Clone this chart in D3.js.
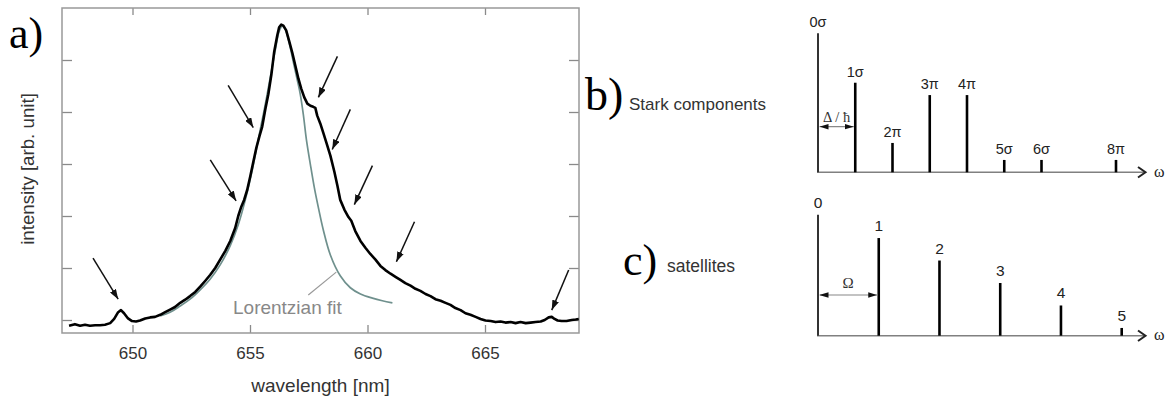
<!DOCTYPE html>
<html><head><meta charset="utf-8">
<script src="https://cdn.jsdelivr.net/npm/d3@7"></script>
<style>body{margin:0;background:#fff}</style>
</head><body>
<svg id="c" width="1167" height="401"></svg>
<script>
// ---- panel a: measured spectrum ----
const wavelength = [647.30,647.55,647.77,647.98,648.19,648.41,648.62,648.83,649.05,649.22,649.39,649.51,649.64,649.81,649.98,650.15,650.32,650.54,650.75,650.96,651.18,651.39,651.60,651.81,652.03,652.24,652.45,652.67,652.88,653.09,653.31,653.52,653.73,653.95,654.16,654.37,654.50,654.63,654.75,654.88,655.01,655.14,655.27,655.40,655.52,655.65,655.78,655.91,656.03,656.16,656.24,656.33,656.42,656.54,656.67,656.80,656.93,657.06,657.18,657.31,657.44,657.57,657.69,657.78,657.86,657.99,658.12,658.25,658.42,658.59,658.72,658.84,659.02,659.19,659.31,659.48,659.70,659.91,660.12,660.34,660.55,660.76,660.98,661.19,661.40,661.61,661.83,662.04,662.25,662.47,662.68,662.89,663.11,663.32,663.53,663.74,663.96,664.17,664.38,664.60,664.81,665.02,665.24,665.45,665.66,665.87,666.09,666.30,666.51,666.73,666.94,667.15,667.37,667.54,667.71,667.84,667.96,668.09,668.26,668.47,668.69,668.86,668.99];
const intensity = [-0.11,-0.08,-0.11,-0.09,-0.11,-0.10,-0.10,-0.09,-0.06,0.02,0.15,0.19,0.13,0.03,-0.02,-0.03,-0.01,0.03,0.05,0.06,0.10,0.15,0.20,0.25,0.33,0.39,0.46,0.54,0.64,0.75,0.87,1.00,1.16,1.33,1.52,1.77,2.00,2.18,2.31,2.50,2.76,3.04,3.31,3.53,3.72,4.05,4.34,4.72,5.16,5.47,5.63,5.68,5.66,5.57,5.36,5.14,4.89,4.64,4.45,4.28,4.16,4.12,4.10,4.08,3.93,3.78,3.60,3.41,3.16,2.85,2.58,2.31,2.12,1.98,1.91,1.71,1.52,1.39,1.27,1.16,1.04,0.96,0.89,0.83,0.77,0.71,0.66,0.60,0.56,0.50,0.46,0.40,0.37,0.33,0.29,0.23,0.19,0.13,0.10,0.06,0.02,-0.01,-0.02,-0.04,-0.03,-0.05,-0.04,-0.06,-0.04,-0.06,-0.05,-0.04,-0.03,0.00,0.05,0.06,0.02,-0.01,-0.02,-0.02,0.00,0.01,0.02];
// Lorentzian fit
const fitWavelength = [651.18,651.60,652.03,652.45,652.88,653.31,653.73,654.16,654.50,654.80,655.10,655.35,655.61,655.86,656.08,656.24,656.37,656.50,656.67,656.84,657.01,657.14,657.27,657.40,657.57,657.74,657.91,658.12,658.42,658.84,659.27,659.70,660.21,660.63,661.06];
const fitIntensity = [0.08,0.15,0.27,0.40,0.58,0.79,1.06,1.43,1.83,2.31,2.89,3.47,4.05,4.66,5.20,5.55,5.65,5.59,5.32,4.97,4.62,4.34,3.95,3.47,2.99,2.54,2.16,1.73,1.25,0.85,0.62,0.50,0.42,0.37,0.33];
const xTicks = [650,655,660,665];
const yTicks = [0,1,2,3,4,5];
// annotation arrows (data units)
const arrowTailL = [648.32,653.31,654.07,658.72,659.27,660.21,662.00,668.56];
const arrowTailI = [1.19,3.08,4.51,5.07,4.05,2.97,1.89,0.96];
const arrowHeadL = [649.39,654.41,655.14,657.91,658.50,659.44,661.23,667.84];
const arrowHeadI = [0.40,2.29,3.70,4.28,3.28,2.22,1.12,0.19];

// ---- panel b: Stark components ----
const starkLabels = ["0σ","1σ","2π","3π","4π","5σ","6σ","8π"];
const starkPos = [0,1,2,3,4,5,6,8];
const starkHeight = [9,5.8,1.9,5,5,0.8,0.8,0.8];
// ---- panel c: satellites ----
const satLabels = ["0","1","2","3","4","5"];
const satPos = [0,1,2,3,4,5];
const satHeight = [7.8,6.3,4.85,3.4,1.95,0.5];

const svg = d3.select("#c");
const sans = "'Liberation Sans', Arial, sans-serif";
const serif = "'Liberation Serif', 'Times New Roman', serif";

const defs = svg.append("defs");
defs.append("marker").attr("id","ah").attr("markerUnits","userSpaceOnUse")
  .attr("viewBox","0 0 10 7").attr("refX",10).attr("refY",3.5)
  .attr("markerWidth",10).attr("markerHeight",7).attr("orient","auto")
  .append("path").attr("d","M0,0L10,3.5L0,7z").attr("fill","#111");
defs.append("marker").attr("id","ah2").attr("markerUnits","userSpaceOnUse")
  .attr("viewBox","0 0 10 6").attr("refX",10).attr("refY",3)
  .attr("markerWidth",9).attr("markerHeight",6).attr("orient","auto-start-reverse")
  .append("path").attr("d","M0,0L10,3L0,6z").attr("fill","#111");

// ===== panel a =====
const L = 62, R = 579, T = 8, B = 333;
const x = d3.scaleLinear().domain([647,669]).range([L,R]);
const y = d3.scaleLinear().domain([-0.25,6]).range([B,T]);

const gx = svg.append("g").attr("transform",`translate(0,${B})`)
  .call(d3.axisBottom(x).tickValues(xTicks).tickFormat(d3.format("d")).tickSizeInner(-8).tickSizeOuter(0).tickPadding(14));
const gxt = svg.append("g").attr("transform",`translate(0,${T})`)
  .call(d3.axisTop(x).tickValues(xTicks).tickFormat("").tickSizeInner(-7).tickSizeOuter(0));
const gy = svg.append("g").attr("transform",`translate(${L},0)`)
  .call(d3.axisLeft(y).tickValues(yTicks).tickFormat("").tickSizeInner(-10).tickSizeOuter(0));
const gyr = svg.append("g").attr("transform",`translate(${R},0)`)
  .call(d3.axisRight(y).tickValues(yTicks).tickFormat("").tickSizeInner(-10).tickSizeOuter(0));
[gx,gxt,gy,gyr].forEach(g=>{
  g.select(".domain").remove();
  g.selectAll(".tick line").attr("stroke","#8a8a8a").attr("stroke-width",1.3);
});
gx.selectAll(".tick text").attr("font-family",sans).attr("font-size",17).attr("fill","#333");
svg.append("rect").attr("x",L).attr("y",T).attr("width",R-L).attr("height",B-T)
  .attr("fill","none").attr("stroke","#999").attr("stroke-width",1.5);

const fitData = fitWavelength.map((d,i)=>[d,fitIntensity[i]]);
const specData = wavelength.map((d,i)=>[d,intensity[i]]);
const line = d3.line().x(d=>x(d[0])).y(d=>y(d[1])).curve(d3.curveCatmullRom);
svg.append("path").datum(fitData).attr("d",line).attr("fill","none")
  .attr("stroke","#6f908d").attr("stroke-width",1.7);
svg.append("path").datum(specData).attr("d",d3.line().x(d=>x(d[0])).y(d=>y(d[1])))
  .attr("fill","none").attr("stroke","#000").attr("stroke-width",2.6).attr("stroke-linejoin","round");

svg.append("g").selectAll("line").data(arrowTailL).join("line")
  .attr("x1",(d)=>x(d)).attr("y1",(d,i)=>y(arrowTailI[i]))
  .attr("x2",(d,i)=>x(arrowHeadL[i])).attr("y2",(d,i)=>y(arrowHeadI[i]))
  .attr("stroke","#111").attr("stroke-width",1.5).attr("marker-end","url(#ah)");

// Lorentzian label + leader
svg.append("line").attr("x1",x(657.48)).attr("y1",y(0.48)).attr("x2",x(658.67)).attr("y2",y(0.92))
  .attr("stroke","#999").attr("stroke-width",1.2);
svg.append("text").attr("x",233).attr("y",314).attr("font-family",sans).attr("font-size",19)
  .attr("fill","#888").text("Lorentzian fit");

svg.append("text").attr("x",(L+R)/2).attr("y",392).attr("text-anchor","middle")
  .attr("font-family",sans).attr("font-size",19).attr("fill","#333").text("wavelength [nm]");
svg.append("text").attr("transform","translate(34,169) rotate(-90)").attr("text-anchor","middle")
  .attr("font-family",sans).attr("font-size",18.7).attr("fill","#333").text("intensity [arb. unit]");
svg.append("text").attr("x",9).attr("y",48).attr("font-family",serif).attr("font-size",44)
  .attr("fill","#000").text("a)");

// ===== panel b =====
const bx = d3.scaleLinear().domain([0,8]).range([818,1116]);
const bBase = 172.3;
const bh = d3.scaleLinear().domain([0,9]).range([bBase,33.3]);
svg.append("line").attr("x1",817).attr("x2",1145).attr("y1",bBase).attr("y2",bBase)
  .attr("stroke","#808080").attr("stroke-width",1.6);
svg.append("path").attr("d",`M1138,167L1145.5,${bBase}L1138,177.5`).attr("fill","none")
  .attr("stroke","#222").attr("stroke-width",2);
svg.append("g").selectAll("line").data(starkPos).join("line")
  .attr("x1",d=>bx(d)).attr("x2",d=>bx(d)).attr("y1",bBase).attr("y2",(d,i)=>bh(starkHeight[i]))
  .attr("stroke",(d,i)=>i===0?"#333":"#000").attr("stroke-width",(d,i)=>i===0?2:2.6);
svg.append("g").selectAll("text").data(starkPos).join("text")
  .attr("x",d=>bx(d)).attr("y",(d,i)=>bh(starkHeight[i])-6).attr("text-anchor","middle")
  .attr("font-family",sans).attr("font-size",14.5).attr("fill","#222").text((d,i)=>starkLabels[i]);
svg.append("line").attr("x1",bx(0)+1.5).attr("x2",bx(1)-1.5).attr("y1",126.7).attr("y2",126.7)
  .attr("stroke","#888").attr("stroke-width",1.2)
  .attr("marker-start","url(#ah2)").attr("marker-end","url(#ah2)");
svg.append("text").attr("x",(bx(0)+bx(1))/2).attr("y",122).attr("text-anchor","middle")
  .attr("font-family",serif).attr("font-size",14.5).attr("fill","#333").text("Δ / ħ");
svg.append("text").attr("x",1154).attr("y",176.5).attr("font-family",serif).attr("font-size",16)
  .attr("fill","#222").text("ω");
svg.append("text").attr("x",585).attr("y",110).attr("font-family",serif).attr("font-size",46)
  .attr("fill","#000").text("b)");
svg.append("text").attr("x",629).attr("y",110).attr("font-family",sans).attr("font-size",17)
  .attr("fill","#333").text("Stark components");

// ===== panel c =====
const cx = d3.scaleLinear().domain([0,5]).range([818,1121.7]);
const cBase = 335.7;
const ch = d3.scaleLinear().domain([0,8]).range([cBase,cBase-124]);
svg.append("line").attr("x1",817).attr("x2",1145).attr("y1",cBase).attr("y2",cBase)
  .attr("stroke","#808080").attr("stroke-width",1.6);
svg.append("path").attr("d",`M1138,330.5L1145.5,${cBase}L1138,341`).attr("fill","none")
  .attr("stroke","#222").attr("stroke-width",2);
svg.append("g").selectAll("line").data(satPos).join("line")
  .attr("x1",d=>cx(d)).attr("x2",d=>cx(d)).attr("y1",cBase).attr("y2",(d,i)=>ch(satHeight[i]))
  .attr("stroke",(d,i)=>i===0?"#333":"#000").attr("stroke-width",(d,i)=>i===0?2:2.6);
svg.append("g").selectAll("text").data(satPos).join("text")
  .attr("x",d=>cx(d)).attr("y",(d,i)=>ch(satHeight[i])-7).attr("text-anchor","middle")
  .attr("font-family",sans).attr("font-size",15.5).attr("fill","#222").text((d,i)=>satLabels[i]);
svg.append("line").attr("x1",cx(0)+1.5).attr("x2",cx(1)-1.5).attr("y1",295).attr("y2",295)
  .attr("stroke","#888").attr("stroke-width",1.2)
  .attr("marker-start","url(#ah2)").attr("marker-end","url(#ah2)");
svg.append("text").attr("x",848).attr("y",288).attr("text-anchor","middle")
  .attr("font-family",serif).attr("font-size",15).attr("fill","#333").text("Ω");
svg.append("text").attr("x",1154).attr("y",340).attr("font-family",serif).attr("font-size",16)
  .attr("fill","#222").text("ω");
svg.append("text").attr("x",623).attr("y",275).attr("font-family",serif).attr("font-size",44)
  .attr("fill","#000").text("c)");
svg.append("text").attr("x",667).attr("y",272).attr("font-family",sans).attr("font-size",17.5)
  .attr("fill","#333").text("satellites");
</script>
</body></html>
